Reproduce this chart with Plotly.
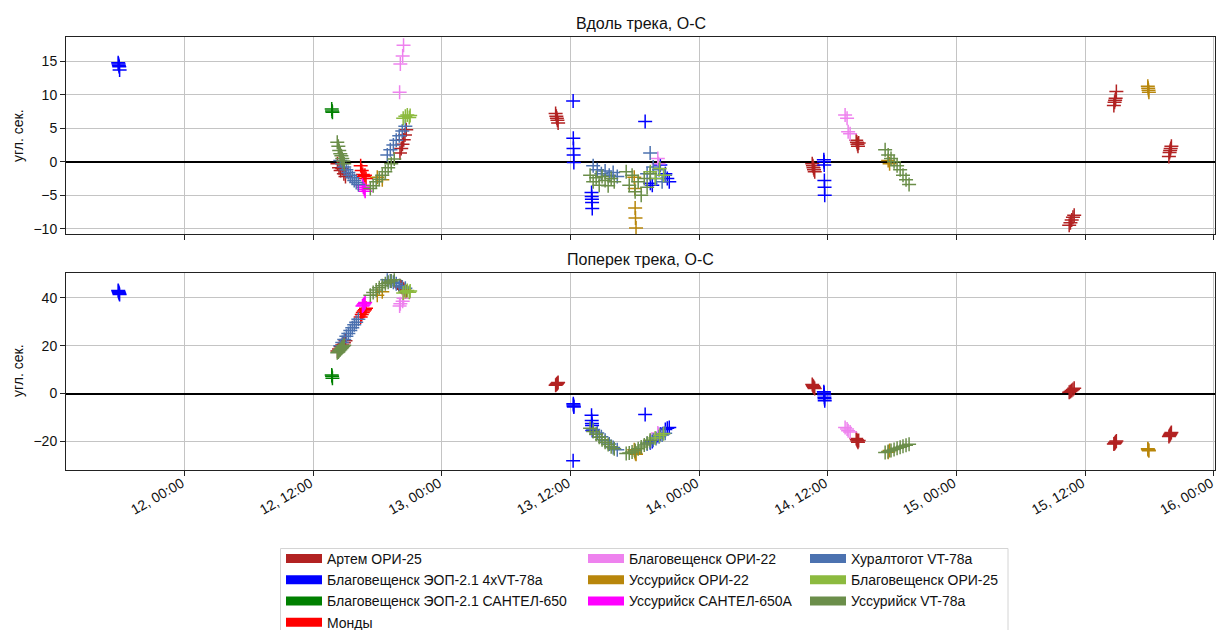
import plotly.graph_objects as go

BASE = "2023-03-"

# ---------------- data (time "DD HH:MM", along-track O-C, cross-track O-C) ----------------
artem_time = ["12 14:15", "12 14:24", "12 14:33", "12 14:42", "12 14:51", "12 15:00",
              "12 20:05", "12 20:12", "12 20:19", "12 20:26", "12 20:33", "12 20:40",
              "13 10:36", "13 10:40", "13 10:43", "13 10:46", "13 10:50",
              "14 10:32", "14 10:36", "14 10:39", "14 10:42", "14 10:46",
              "14 14:38", "14 14:42", "14 14:45", "14 14:48", "14 14:52",
              "15 10:30", "15 10:37", "15 10:44", "15 10:51", "15 10:58",
              "15 14:40", "15 14:44", "15 14:47", "15 14:50", "15 14:54",
              "15 19:48", "15 19:52", "15 19:55", "15 19:58", "15 20:02"]
artem_along = [-0.3, -0.9, -1.3, -1.0, -1.8, -2.2,
               1.3, 2.0, 2.6, 3.3, 4.0, 4.8,
               7.2, 6.8, 6.5, 6.2, 5.8,
               -0.3, -0.6, -0.9, -1.2, -1.5,
               3.2, 2.9, 2.6, 2.3, 2.8,
               -9.5, -9.1, -8.7, -8.3, -8.0,
               8.4, 8.9, 9.2, 9.5, 10.5,
               0.8, 1.4, 1.7, 2.0, 2.3]
artem_across = [17.8, 18.6, 19.5, 20.3, 21.2, 22.0,
                45.0, 44.5, 44.0, 43.5, 43.0, 42.5,
                3.5, 3.8, 4.0, 4.3, 4.6,
                3.8, 3.3, 2.9, 2.5, 2.1,
                -18.8, -19.3, -19.8, -20.3, -19.6,
                0.5, 0.9, 1.3, 1.7, 2.2,
                -21.0, -20.8, -20.5, -20.2, -19.8,
                -17.9, -17.5, -17.1, -16.7, -16.3]

eop4_time = ["11 17:48", "11 17:50", "11 17:52", "11 17:54", "11 17:56",
             "13 12:14", "13 12:15", "13 12:16", "13 12:17", "13 12:18",
             "13 13:57", "13 13:58", "13 13:59", "13 14:00", "13 14:01",
             "13 18:57",
             "13 19:26", "13 19:37", "13 20:22", "13 20:50", "13 21:01", "13 21:12",
             "14 11:37", "14 11:38", "14 11:39", "14 11:40", "14 11:41", "14 11:42"]
eop4_along = [14.8, 14.6, 14.4, 14.2, 13.7,
              9.1, 3.5, 2.0, 1.0, -0.1,
              -4.6, -5.2, -5.6, -6.1, -7.0,
              6.0,
              -3.2, -3.5, -0.5, -1.8, -2.5, -3.0,
              0.3, 0.0, -0.5, -2.8, -3.8, -5.0]
eop4_across = [43.0, 42.6, 42.2, 41.8, 41.4,
               -28.0, -4.2, -4.8, -5.3, -5.6,
               -9.1, -11.2, -12.5, -13.3, -15.4,
               -8.7,
               -20.5, -20.0, -17.0, -15.0, -14.5, -14.2,
               0.8, 0.2, -0.5, -1.5, -2.2, -3.0]

eopsan_time = ["12 13:43", "12 13:45", "12 13:47"]
eopsan_along = [7.9, 7.6, 7.4]
eopsan_across = [7.8, 7.2, 6.4]

mondy_time = ["12 16:25", "12 16:31", "12 16:37", "12 16:43", "12 16:49", "12 16:55"]
mondy_along = [-0.6, -1.3, -1.9, -2.2, -2.0, -2.5]
mondy_across = [32.0, 33.0, 33.8, 34.5, 35.0, 35.6]

blg22_time = ["12 20:03", "12 20:07", "12 20:20", "12 20:25",
              "13 20:08", "13 20:12",
              "14 13:36", "14 13:47", "14 13:53", "14 14:04"]
blg22_along = [10.4, 14.6, 15.8, 17.4, 0.5, -0.3, 7.0, 6.5, 4.5, 4.2]
blg22_across = [36.5, 37.5, 38.5, 39.8, -16.5, -17.0, -14.2, -14.8, -15.5, -16.0]

uss22_time = ["12 17:58", "12 18:26",
              "13 17:56", "13 17:59", "13 18:01", "13 18:03", "13 18:06",
              "14 17:37", "14 17:45",
              "15 17:50", "15 17:52", "15 17:54", "15 17:56"]
uss22_along = [-2.3, -2.7, -2.3, -4.0, -6.9, -8.4, -9.9, 0.2, -0.3, 11.3, 11.0, 10.7, 10.4]
uss22_across = [41.0, 42.5, -23.5, -24.0, -24.5, -25.0, -25.3, -24.5, -23.8, -23.0, -23.3, -23.6, -23.9]

usssan_time = ["12 16:35", "12 16:40", "12 16:45", "12 16:50"]
usssan_along = [-3.5, -3.8, -4.1, -4.4]
usssan_across = [36.5, 37.0, 37.5, 38.0]

hural_time = ["12 14:31", "12 14:42", "12 14:53", "12 15:05", "12 15:16", "12 15:27",
              "12 15:38", "12 15:49", "12 16:00", "12 16:12",
              "12 18:54", "12 19:11", "12 19:28", "12 19:44", "12 20:01", "12 20:18", "12 20:35",
              "13 14:06", "13 14:29", "13 14:52", "13 15:13", "13 15:36", "13 15:58", "13 16:21",
              "13 19:08", "13 19:25", "13 19:42", "13 19:58", "13 20:15", "13 20:32", "13 20:49"]
hural_along = [0.2, -0.3, -0.8, -1.2, -1.6, -2.0, -2.4, -2.8, -3.1, -3.4,
               1.0, 1.8, 2.5, 3.2, 3.9, 4.6, 5.3,
               -0.6, -1.2, -1.8, -1.4, -2.0, -1.6, -2.2,
               -1.8, 1.3, -0.8, -2.5, -1.2, -3.0, -2.0]
hural_across = [20.0, 21.3, 22.6, 23.9, 25.1, 26.3, 27.5, 28.7, 29.8, 31.0,
                47.5, 47.0, 46.5, 45.8, 45.0, 44.5, 44.0,
                -15.0, -16.5, -18.0, -19.5, -21.0, -22.5, -23.5,
                -21.0, -20.3, -19.5, -18.8, -18.0, -17.3, -16.6]

blg25_time = ["12 20:23", "12 20:35", "12 20:46", "12 20:57", "12 21:02",
              "13 19:26", "13 19:53", "13 20:19", "13 20:40"]
blg25_along = [6.5, 6.8, 7.0, 6.6, 6.9, -1.5, -2.5, -1.0, -2.0]
blg25_across = [42.0, 42.6, 43.0, 42.3, 42.8, -19.5, -18.5, -17.5, -16.8]

ussvt_time = ["12 14:14", "12 14:20", "12 14:25", "12 14:31", "12 14:37", "12 14:42", "12 14:48", "12 14:53",
              "12 17:19", "12 17:35", "12 17:52", "12 18:09", "12 18:26", "12 18:43", "12 18:59", "12 19:16", "12 19:33",
              "13 13:49", "13 14:06", "13 14:23", "13 14:40", "13 14:56", "13 15:13", "13 15:30", "13 15:47", "13 16:04",
              "13 17:11", "13 17:28", "13 17:44", "13 18:01", "13 18:18", "13 18:35", "13 18:52", "13 19:08", "13 19:25",
              "14 17:20", "14 17:37", "14 17:53", "14 18:10", "14 18:27", "14 18:44", "14 19:00", "14 19:17", "14 19:34"]
ussvt_along = [2.9, 2.3, 1.7, 1.2, 0.9, 0.5, 0.1, -0.3,
               -4.0, -3.6, -3.0, -2.6, -2.0, -1.5, -0.9, -0.3, 0.4,
               -2.0, -3.0, -2.4, -3.5, -2.2, -2.8, -3.6, -2.5, -3.0,
               -1.5, -3.5, -2.0, -4.5, -3.0, -5.0, -2.5, -3.8, -1.8,
               1.8, 1.0, 0.5, 0.0, -0.6, -1.2, -2.0, -2.7, -3.4]
ussvt_across = [17.0, 17.4, 17.9, 18.3, 18.8, 19.2, 19.7, 20.2,
                41.0, 42.2, 43.2, 44.2, 45.0, 45.8, 46.5, 47.0, 47.5,
                -14.5, -15.8, -17.0, -18.2, -19.3, -20.3, -21.3, -22.2, -23.0,
                -25.0, -24.8, -24.4, -23.8, -23.0, -22.3, -21.5, -20.6, -19.6,
                -24.6, -24.2, -23.8, -23.3, -22.8, -22.4, -22.0, -21.6, -21.2]

series_names = ["Артем ОРИ-25", "Благовещенск ЭОП-2.1 4xVT-78a", "Благовещенск ЭОП-2.1 САНТЕЛ-650",
                "Монды", "Благовещенск ОРИ-22", "Уссурийск ОРИ-22", "Уссурийск САНТЕЛ-650A",
                "Хуралтогот VT-78a", "Благовещенск ОРИ-25", "Уссурийск VT-78a"]
series_colors = ["#b22222", "#0000ff", "#008000", "#ff0000", "#ee82ee", "#b8860b",
                 "#ff00ff", "#4c72b0", "#8cba3f", "#6b8e4a"]
series_times = [artem_time, eop4_time, eopsan_time, mondy_time, blg22_time, uss22_time,
                usssan_time, hural_time, blg25_time, ussvt_time]
series_along = [artem_along, eop4_along, eopsan_along, mondy_along, blg22_along, uss22_along,
                usssan_along, hural_along, blg25_along, ussvt_along]
series_across = [artem_across, eop4_across, eopsan_across, mondy_across, blg22_across, uss22_across,
                 usssan_across, hural_across, blg25_across, ussvt_across]
legend_column = ["legend", "legend", "legend", "legend", "legend2", "legend2", "legend2",
                 "legend3", "legend3", "legend3"]

title_top = "Вдоль трека, О-С"
title_bottom = "Поперек трека, О-С"
y_label = "угл. сек."

# ---------------- figure ----------------
FONT = "Liberation Sans, Arial, sans-serif"
W, H = 1217, 630
ML, MR, MT, MB = 66, 2, 37, 160
H_plot = H - MT - MB
W_plot = W - ML - MR


def py_to_paper(py):
    return (H - MB - py) / H_plot


def px_to_paper(px):
    return (px - ML) / W_plot


fig = go.Figure()

for name, col, tt, a, c in zip(series_names, series_colors, series_times, series_along, series_across):
    t = [BASE + s for s in tt]
    mk = dict(symbol="cross-thin", size=10, line=dict(color=col, width=1.5), color=col)
    fig.add_trace(go.Scatter(x=t, y=a, mode="markers", marker=mk, showlegend=False,
                             xaxis="x", yaxis="y", hoverinfo="skip"))
    fig.add_trace(go.Scatter(x=t, y=c, mode="markers", marker=mk, showlegend=False,
                             xaxis="x2", yaxis="y2", hoverinfo="skip"))

for name, col, lg in zip(series_names, series_colors, legend_column):
    fig.add_trace(go.Scatter(x=[BASE + "12 00:00"], y=[None], mode="lines", name=name,
                             line=dict(color=col, width=9), legend=lg,
                             xaxis="x", yaxis="y", showlegend=True, hoverinfo="skip"))

x_range = [BASE + "11 12:56", BASE + "16 00:06"]
axis_common = dict(showgrid=True, gridcolor="#c4c4c4", gridwidth=1, showline=True, mirror=True,
                   linecolor="#222222", linewidth=1, ticks="outside", ticklen=5, tickwidth=1,
                   tickcolor="#222222", tickfont=dict(family=FONT, size=14, color="#111111"))
xcommon = dict(type="date", range=x_range, autorange=False, tick0=BASE + "12 00:00", dtick=43200000,
               tickformat="%d, %H:%M", zeroline=False, ticklabeloverflow="allow", **axis_common)

top_dom = [py_to_paper(234), 1.0]
bot_dom = [0.0, py_to_paper(273.3)]

leg_common = dict(xref="paper", yref="paper", xanchor="left", yanchor="top",
                  bgcolor="rgba(0,0,0,0)", borderwidth=0, itemwidth=36,
                  font=dict(family=FONT, size=14, color="#111111"),
                  itemclick=False, itemdoubleclick=False)

fig.update_layout(
    width=W, height=H,
    margin=dict(l=ML, r=MR, t=MT, b=MB, autoexpand=False),
    plot_bgcolor="white", paper_bgcolor="white",
    font=dict(family=FONT, size=14, color="#111111"),
    xaxis=dict(domain=[0, 1], anchor="y", showticklabels=False, **xcommon),
    xaxis2=dict(domain=[0, 1], anchor="y2", showticklabels=True, tickangle=-30,
                ticklabelstandoff=-6, ticklabelshift=-3, **xcommon),
    yaxis=dict(domain=top_dom, anchor="x", range=[-10.8, 18.65], autorange=False, dtick=5, tick0=0,
               zeroline=True, zerolinecolor="black", zerolinewidth=2, **axis_common),
    yaxis2=dict(domain=bot_dom, anchor="x2", range=[-31.9, 50.2], autorange=False, dtick=20, tick0=0,
                zeroline=True, zerolinecolor="black", zerolinewidth=2, **axis_common),
    legend=dict(x=px_to_paper(281), y=py_to_paper(543), **leg_common),
    legend2=dict(x=px_to_paper(583), y=py_to_paper(543), **leg_common),
    legend3=dict(x=px_to_paper(805), y=py_to_paper(543), **leg_common),
    showlegend=True,
)

fig.add_annotation(text=title_top, xref="paper", yref="paper", x=0.5, y=py_to_paper(23),
                   xanchor="center", yanchor="middle", showarrow=False,
                   font=dict(family=FONT, size=16, color="#111111"))
fig.add_annotation(text=title_bottom, xref="paper", yref="paper", x=0.5, y=py_to_paper(259),
                   xanchor="center", yanchor="middle", showarrow=False,
                   font=dict(family=FONT, size=16, color="#111111"))
fig.add_annotation(text=y_label, xref="paper", yref="paper", x=px_to_paper(18), y=py_to_paper(136),
                   xanchor="center", yanchor="middle", showarrow=False, textangle=-90,
                   font=dict(family=FONT, size=14, color="#111111"))
fig.add_annotation(text=y_label, xref="paper", yref="paper", x=px_to_paper(18), y=py_to_paper(371),
                   xanchor="center", yanchor="middle", showarrow=False, textangle=-90,
                   font=dict(family=FONT, size=14, color="#111111"))

fig.add_shape(type="rect", xref="paper", yref="paper",
              x0=px_to_paper(280.5), x1=px_to_paper(1008), y0=py_to_paper(548.5), y1=py_to_paper(640),
              line=dict(color="#d4d4d4", width=1), fillcolor="rgba(0,0,0,0)", layer="below")

fig.write_html("out.html")
